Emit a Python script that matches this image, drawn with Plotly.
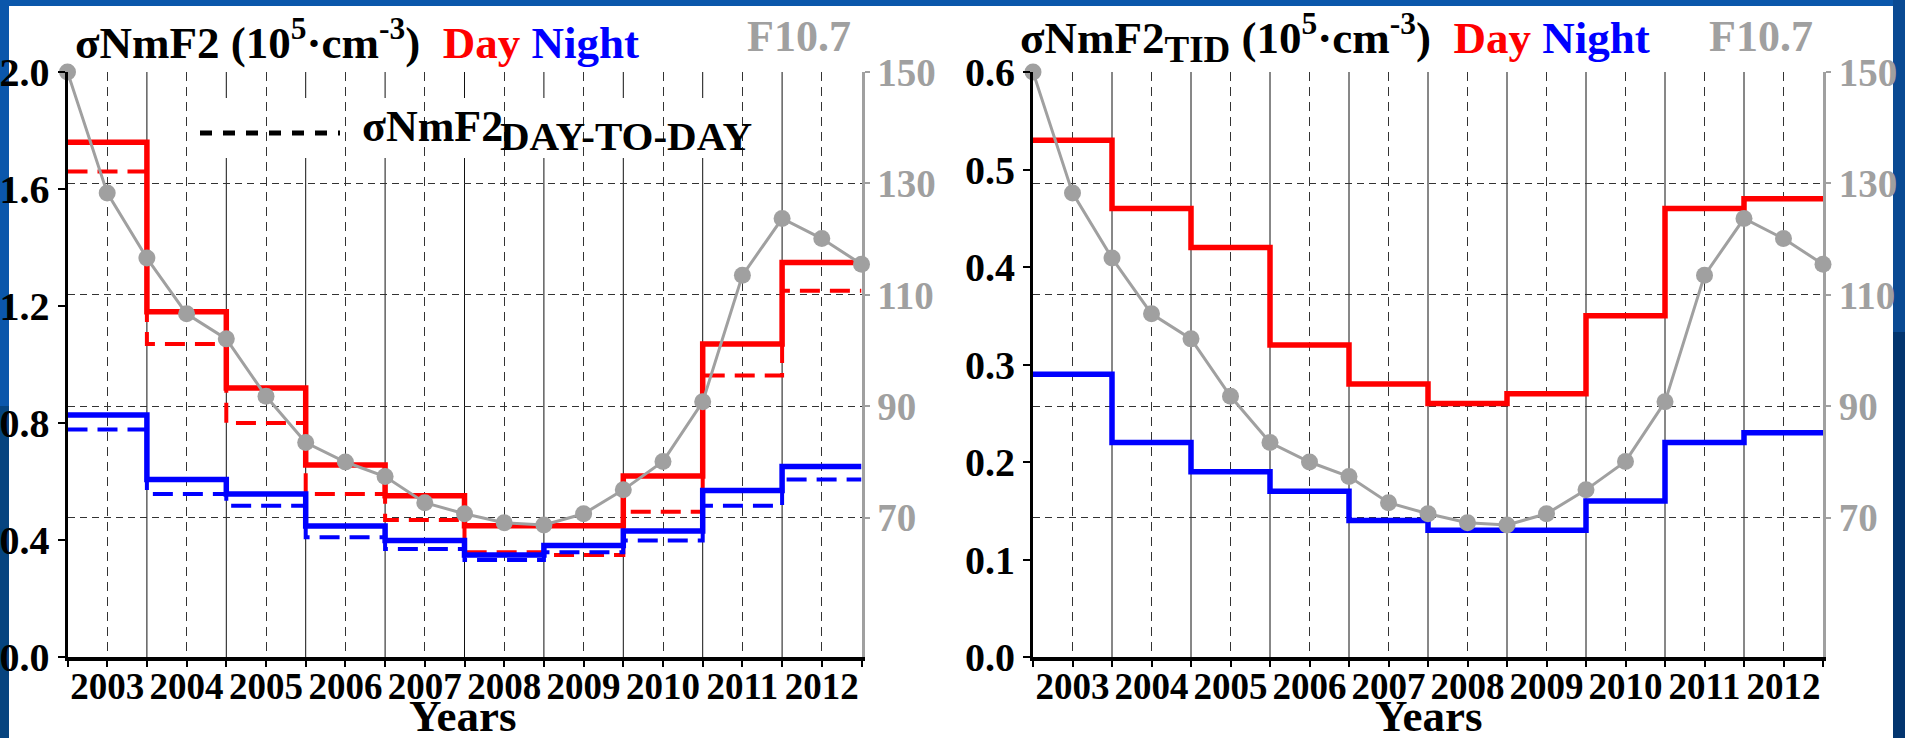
import plotly.graph_objects as go

# ---------------- data ----------------
years = [2003, 2004, 2005, 2006, 2007, 2008, 2009, 2010, 2011, 2012]
year_labels = [str(y) for y in years]

# F10.7 solar flux (half-year sampling)
f107_time = [2002.5, 2003.0, 2003.5, 2004.0, 2004.5, 2005.0, 2005.5, 2006.0, 2006.5, 2007.0,
             2007.5, 2008.0, 2008.5, 2009.0, 2009.5, 2010.0, 2010.5, 2011.0, 2011.5, 2012.0, 2012.5]
f107 = [150.0, 128.3, 116.6, 106.6, 102.1, 91.8, 83.5, 80.0, 77.4, 72.7,
        70.7, 69.1, 68.7, 70.7, 75.0, 80.1, 90.8, 113.5, 123.7, 120.1, 115.5]

# sigma NmF2 (10^5 cm^-3)
day_total = [1.76, 1.18, 0.92, 0.656, 0.551, 0.449, 0.449, 0.619, 1.07, 1.349]
day_dtd = [1.66, 1.07, 0.80, 0.557, 0.468, 0.358, 0.349, 0.497, 0.962, 1.252]
night_total = [0.827, 0.607, 0.557, 0.448, 0.398, 0.349, 0.381, 0.431, 0.569, 0.651]
night_dtd = [0.778, 0.557, 0.517, 0.409, 0.369, 0.332, 0.358, 0.398, 0.517, 0.607]

# sigma NmF2 TID
day_tid = [0.53, 0.46, 0.42, 0.32, 0.28, 0.26, 0.27, 0.35, 0.46, 0.47]
night_tid = [0.29, 0.22, 0.19, 0.17, 0.14, 0.13, 0.13, 0.16, 0.22, 0.23]

left_ticks = [0.0, 0.4, 0.8, 1.2, 1.6, 2.0]
right_ticks = [0.0, 0.1, 0.2, 0.3, 0.4, 0.5, 0.6]
f107_ticks = [70, 90, 110, 130, 150]

# ---------------- styling ----------------
W, H = 1905, 738
RED, BLUE, GRAY = "#ff0000", "#0000ff", "#a0a0a0"
FONT = "Liberation Serif"


def X(px):
    return px / W


def Y(py):
    return 1 - py / H


edges = [y - 0.5 for y in years] + [years[-1] + 0.5]


def step_y(vals):
    return list(vals) + [vals[-1]]


fig = go.Figure()


def add_steps(xa, ya, vals, color, dashed):
    fig.add_trace(go.Scatter(
        x=edges, y=step_y(vals), mode="lines", line_shape="hv",
        line=dict(color=color, width=4 if dashed else 5.5,
                  dash="20px,10px" if dashed else "solid"),
        xaxis=xa, yaxis=ya, showlegend=False, hoverinfo="skip"))


# left panel
add_steps("x", "y", day_dtd, RED, True)
add_steps("x", "y", night_dtd, BLUE, True)
add_steps("x", "y", day_total, RED, False)
add_steps("x", "y", night_total, BLUE, False)
fig.add_trace(go.Scatter(x=f107_time, y=f107, mode="lines+markers",
                         line=dict(color=GRAY, width=3),
                         marker=dict(color=GRAY, size=17),
                         xaxis="x", yaxis="y2", cliponaxis=False,
                         showlegend=False))
# right panel
add_steps("x2", "y3", day_tid, RED, False)
add_steps("x2", "y3", night_tid, BLUE, False)
fig.add_trace(go.Scatter(x=f107_time, y=f107, mode="lines+markers",
                         line=dict(color=GRAY, width=3),
                         marker=dict(color=GRAY, size=17),
                         xaxis="x2", yaxis="y4", cliponaxis=False,
                         showlegend=False))

ydom = [Y(657), Y(72)]
xtickfont = dict(family=FONT, size=37, color="black", weight="bold")
ytickfont = dict(family=FONT, size=40, color="black", weight="bold")
grayfont = dict(family=FONT, size=39, color=GRAY, weight="bold")
GRID = "#333333"


def xaxis_def(dom, anchor):
    return dict(domain=dom, anchor=anchor, range=[edges[0], edges[-1]], automargin=False,
                tickmode="array", tickvals=years, ticktext=year_labels,
                ticks="outside", ticklen=6, tickwidth=2, tickcolor="black",
                ticklabelstandoff=-12,
                showline=True, linewidth=4, linecolor="black",
                showgrid=True, gridcolor=GRID, gridwidth=1, griddash="9px,6px",
                zeroline=False, tickfont=xtickfont,
                minor=dict(tickmode="array", tickvals=edges, ticks="outside",
                           ticklen=6, tickwidth=2, tickcolor="black", showgrid=False))


def yleft_def(anchor, rng, ticks):
    return dict(domain=ydom, anchor=anchor, range=rng, tickmode="array", automargin=False,
                tickvals=ticks, ticktext=[f"{t:.1f}" for t in ticks],
                ticks="outside", ticklen=7, tickwidth=2, tickcolor="black",
                showline=True, linewidth=3, linecolor="black",
                showgrid=False, zeroline=False, tickfont=ytickfont)


def yright_def(anchor, over):
    return dict(overlaying=over, side="right", anchor=anchor, range=[45, 150], automargin=False,
                tickmode="array", tickvals=f107_ticks,
                ticks="outside", ticklen=5, tickwidth=2, tickcolor=GRAY,
                showline=True, linewidth=3, linecolor=GRAY,
                showgrid=True, gridcolor=GRID, gridwidth=1, griddash="7px,5px",
                zeroline=False, tickfont=grayfont)


shapes = [
    # slide background panel
    dict(type="rect", xref="paper", yref="paper", x0=X(1893), x1=1, y0=0, y1=0.55,
         fillcolor="#03356f", line_width=0, layer="below"),
    dict(type="rect", xref="paper", yref="paper", x0=X(1893), x1=1, y0=0.55, y1=1,
         fillcolor="#0a4a93", line_width=0, layer="below"),
    dict(type="rect", xref="paper", yref="paper", x0=0, x1=X(9), y0=0, y1=0.45,
         fillcolor="#06447f", line_width=0, layer="below"),
    dict(type="rect", xref="paper", yref="paper", x0=X(9), x1=X(1893), y0=0, y1=Y(6),
         fillcolor="white", line_width=0, layer="below"),
]

# solid year-boundary grid lines (left panel interrupted behind the legend box)
gap_lo, gap_hi = (657 - 158) / 585, (657 - 98) / 585
for b in edges[1:-1]:
    for xr, yr, gap in (("x", "y domain", 2004.4 < b < 2010.6), ("x2", "y3 domain", False)):
        segs = [(0, gap_lo), (gap_hi, 1)] if gap else [(0, 1)]
        for a, c in segs:
            shapes.append(dict(type="line", xref=xr, yref=yr, x0=b, x1=b, y0=a, y1=c,
                               line=dict(color="#111111", width=1), layer="below"))

# legend key for day-to-day dashed lines
shapes.append(dict(type="line", xref="paper", yref="paper", x0=X(200), x1=X(340),
                   y0=Y(133), y1=Y(133), line=dict(color="black", width=5, dash="12px,11px")))

titlefont = dict(family=FONT, size=45, color="black", weight="bold")
f107font = dict(family=FONT, size=44, color=GRAY, weight="bold")
annotations = [
    dict(text="σNmF2 (10<sup>5</sup>·cm<sup>-3</sup>)  <span style='color:#ff0000'>Day</span> "
              "<span style='color:#0000ff'>Night</span>",
         x=X(73), y=Y(70), xanchor="left", yanchor="bottom", showarrow=False,
         xref="paper", yref="paper", font=titlefont),
    dict(text="F10.7", x=X(853), y=Y(63), xanchor="right", yanchor="bottom", showarrow=False,
         xref="paper", yref="paper", font=f107font),
    dict(text="σNmF2<sub><span style='font-size:37px'>TID</span></sub> (10<sup>5</sup>·cm<sup>-3</sup>)  "
              "<span style='color:#ff0000'>Day</span> <span style='color:#0000ff'>Night</span>",
         x=X(1018), y=Y(72), xanchor="left", yanchor="bottom", showarrow=False,
         xref="paper", yref="paper", font=titlefont),
    dict(text="F10.7", x=X(1815), y=Y(63), xanchor="right", yanchor="bottom", showarrow=False,
         xref="paper", yref="paper", font=f107font),
    dict(text="Years", x=X(462), y=Y(716), xanchor="center", yanchor="middle", showarrow=False,
         xref="paper", yref="paper", font=titlefont),
    dict(text="Years", x=X(1428), y=Y(716), xanchor="center", yanchor="middle", showarrow=False,
         xref="paper", yref="paper", font=titlefont),
    dict(text="σNmF2", x=X(360), y=Y(153), xanchor="left", yanchor="bottom", showarrow=False,
         xref="paper", yref="paper", font=dict(family=FONT, size=44, color="black", weight="bold")),
    dict(text="DAY-TO-DAY", x=X(498), y=Y(161), xanchor="left", yanchor="bottom", showarrow=False,
         xref="paper", yref="paper", font=dict(family=FONT, size=41, color="black", weight="bold")),
]

fig.update_layout(
    width=W, height=H, margin=dict(l=0, r=0, t=0, b=0, autoexpand=False),
    paper_bgcolor="#0b57ab", plot_bgcolor="rgba(0,0,0,0)",
    showlegend=False,
    xaxis=xaxis_def([X(67.5), X(861.5)], "y"),
    yaxis=yleft_def("x", [0, 2.0], left_ticks),
    yaxis2=yright_def("x", "y"),
    xaxis2=xaxis_def([X(1033), X(1823)], "y3"),
    yaxis3=yleft_def("x2", [0, 0.6], right_ticks),
    yaxis4=yright_def("x2", "y3"),
    shapes=shapes, annotations=annotations,
)

fig.write_html("out.html")
